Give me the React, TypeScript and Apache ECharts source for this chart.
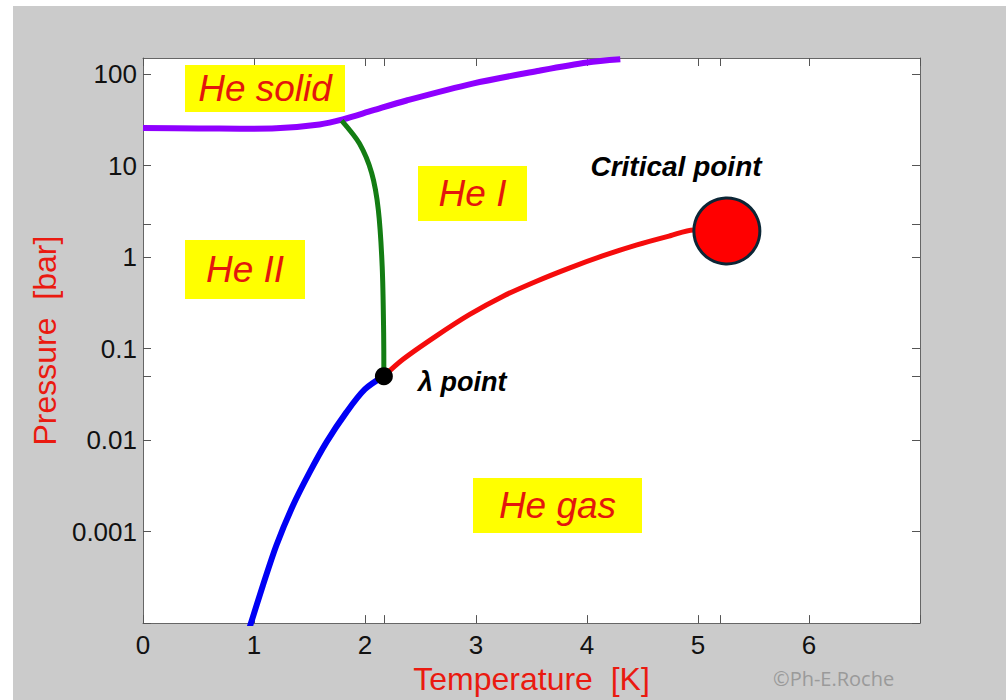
import React, { useEffect, useRef } from "react";
import * as echarts from "echarts";

// Melting curve (solid / liquid)
const meltT = [0, 0.5, 0.87, 1.2, 1.59, 1.8, 2.07, 2.375, 2.97, 3.57, 4.0, 4.3];
const meltP = [25.7, 25.5, 25.3, 25.6, 28.2, 32.0, 40.1, 51.5, 78.8, 109, 134, 145];

// Lambda line (He I / He II)
const lambdaT = [1.79, 1.95, 2.06, 2.12, 2.155, 2.168, 2.17];
const lambdaP = [31.0, 17.4, 8.3, 3.3, 0.78, 0.15, 0.05];

// Vapour pressure above the lambda point (He I / gas)
const vapHighT = [2.17, 2.34, 2.64, 2.94, 3.24, 3.54, 3.84, 4.14, 4.45, 4.75, 4.96, 5.26];
const vapHighP = [0.05, 0.076, 0.137, 0.235, 0.372, 0.542, 0.759, 1.03, 1.36, 1.71, 1.98, 1.93];

// Vapour pressure below the lambda point (He II / gas)
const vapLowT = [0.96, 0.977, 1.081, 1.202, 1.351, 1.502, 1.652, 1.832, 2.0, 2.17];
const vapLowP = [0.000089, 0.000104, 0.00026, 0.00071, 0.00193, 0.00447, 0.00946, 0.0201, 0.036, 0.05];

const lambdaPoint = [2.17, 0.05];
const criticalPoint = [5.26, 1.93];

const xTickValues = [0, 1, 2, 2.17, 3, 4, 5, 5.2, 6, 7];
const xLabelValues = [0, 1, 2, 3, 4, 5, 6];
const yTickValues = [0.0001, 0.001, 0.01, 0.05, 0.1, 1, 2.27, 10, 100];
const yLabelValues = [0.001, 0.01, 0.1, 1, 10, 100];
const yLabelTexts = ["0.001", "0.01", "0.1", "1", "10", "100"];

const zip = (a: number[], b: number[]) => a.map((v, i) => [v, b[i]]);

const FONT = '"Liberation Sans", Arial, Helvetica, sans-serif';
const RED_TEXT = "#e3160d";

export default function App() {
  const ref = useRef<HTMLDivElement>(null);
  useEffect(() => {
    if (!ref.current) return;
    const chart = echarts.init(ref.current, undefined, { renderer: "svg" });
    const lineAxis = { show: true, onZero: false, lineStyle: { color: "#666", width: 1 } };
    const tickStyle = { color: "#555", width: 1 };
    const yFmt = (v: number) => {
      const i = yLabelValues.findIndex((lv) => Math.abs(Math.log10(v) - Math.log10(lv)) < 1e-6);
      return i >= 0 ? yLabelTexts[i] : "";
    };
    const label = (text: string, x: number, y: number, w: number, h: number) => [
      { type: "rect", shape: { x, y, width: w, height: h }, style: { fill: "#ffff00" }, z: 50 },
      {
        type: "text",
        x: x + w / 2,
        y: y + h / 2,
        z: 51,
        style: {
          text,
          fill: RED_TEXT,
          font: `italic 37px ${FONT}`,
          textAlign: "center",
          textVerticalAlign: "middle",
          align: "center",
          verticalAlign: "middle",
        },
      },
    ];
    const plainText = (text: string, x: number, y: number, font: string, fill: string, align = "center") => ({
      type: "text",
      x,
      y,
      z: 51,
      style: { text, fill, font, textAlign: align, textVerticalAlign: "middle", align, verticalAlign: "middle" },
    });

    chart.setOption({
      animation: false,
      backgroundColor: "transparent",
      grid: { left: 143, right: 86, top: 58, bottom: 75, show: true, backgroundColor: "#ffffff", borderWidth: 0 },
      xAxis: [
        {
          type: "value",
          position: "bottom",
          min: 0,
          max: 7,
          axisLine: lineAxis,
          splitLine: { show: false },
          axisTick: { show: true, inside: true, length: 8, lineStyle: tickStyle, customValues: xTickValues },
          axisLabel: { customValues: xLabelValues, color: "#111", fontSize: 26, fontFamily: FONT, margin: 9 },
          name: "Temperature  [K]",
          nameLocation: "middle",
          nameGap: 32,
          nameTextStyle: { color: "#ea1a10", fontSize: 32, fontFamily: FONT },
        },
        {
          type: "value",
          position: "top",
          min: 0,
          max: 7,
          axisLine: lineAxis,
          splitLine: { show: false },
          axisTick: { show: true, inside: true, length: 8, lineStyle: tickStyle, customValues: xTickValues },
          axisLabel: { show: false },
        },
      ],
      yAxis: [
        {
          type: "log",
          logBase: 10,
          position: "left",
          min: 0.0001,
          max: 150,
          axisLine: lineAxis,
          splitLine: { show: false },
          minorTick: { show: false },
          axisTick: { show: true, inside: true, length: 8, lineStyle: tickStyle, customValues: yTickValues },
          axisLabel: { customValues: yLabelValues, formatter: yFmt, color: "#111", fontSize: 26, fontFamily: FONT, margin: 6 },
          name: "Pressure  [bar]",
          nameLocation: "middle",
          nameGap: 82,
          nameTextStyle: { color: "#ea1a10", fontSize: 32, fontFamily: FONT },
        },
        {
          type: "log",
          logBase: 10,
          position: "right",
          min: 0.0001,
          max: 150,
          axisLine: lineAxis,
          splitLine: { show: false },
          axisTick: { show: true, inside: true, length: 8, lineStyle: tickStyle, customValues: yTickValues },
          axisLabel: { show: false },
        },
      ],
      series: [
        {
          type: "line",
          data: zip(meltT, meltP),
          smooth: 0.3,
          showSymbol: false,
          lineStyle: { color: "#8f00ff", width: 6 },
          z: 2,
        },
        {
          type: "line",
          data: zip(lambdaT, lambdaP),
          smooth: 0.3,
          showSymbol: false,
          lineStyle: { color: "#137d13", width: 5 },
          z: 3,
        },
        {
          type: "line",
          data: zip(vapHighT, vapHighP),
          smooth: 0.3,
          showSymbol: false,
          lineStyle: { color: "#f50c0c", width: 5 },
          z: 3,
        },
        {
          type: "line",
          data: zip(vapLowT, vapLowP),
          smooth: 0.3,
          showSymbol: false,
          lineStyle: { color: "#0000f5", width: 6 },
          z: 3,
        },
        {
          type: "scatter",
          data: [lambdaPoint],
          symbol: "circle",
          symbolSize: 18,
          itemStyle: { color: "#000000", opacity: 1 },
          z: 5,
        },
        {
          type: "scatter",
          data: [criticalPoint],
          symbol: "circle",
          symbolSize: 66,
          itemStyle: { color: "#ff0000", borderColor: "#0c2636", borderWidth: 3, opacity: 1 },
          z: 6,
        },
      ],
      graphic: [
        ...label("He solid", 185, 65, 160, 47),
        ...label("He II", 185, 240, 120, 59),
        ...label("He I", 418, 166, 109, 55),
        ...label("He gas", 473, 478, 169, 55),
        plainText("Critical point", 676, 166, `italic bold 28px ${FONT}`, "#000"),
        plainText("λ point", 418, 382, `italic bold 27px ${FONT}`, "#000", "left"),
        plainText("©Ph-E.Roche", 773, 678, `20px "Open Sans", sans-serif`, "#9a9a9a", "left"),
      ],
    });
    return () => chart.dispose();
  }, []);

  return (
    <div style={{ position: "fixed", left: 0, top: 0, width: 1006, height: 700, background: "#ffffff" }}>
      <div style={{ position: "absolute", left: 13, top: 6, right: 0, bottom: 0, background: "#cbcbcb" }} />
      <div ref={ref} style={{ position: "absolute", left: 0, top: 0, width: 1006, height: 700 }} />
    </div>
  );
}
